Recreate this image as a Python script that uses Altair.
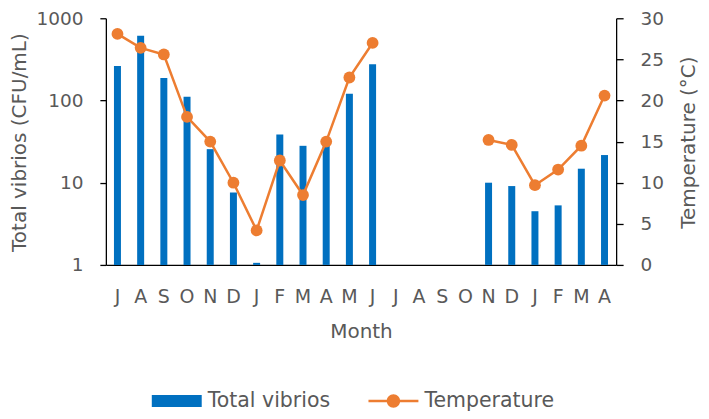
import altair as alt
import pandas as pd

months = ["J", "A", "S", "O", "N", "D", "J", "F", "M", "A", "M", "J",
          "J", "A", "S", "O", "N", "D", "J", "F", "M", "A"]
vibrios = [263, 611, 188, 111, 25.6, 7.6, 1.06, 38.6, 28.1, 29, 121, 275,
           None, None, None, None, 10, 9.1, 4.5, 5.3, 14.8, 21.7]
temps = [28.1, 26.4, 25.6, 18.0, 15.0, 10.0, 4.2, 12.7, 8.5, 15.0, 22.8, 27.0,
         None, None, None, None, 15.2, 14.6, 9.7, 11.6, 14.5, 20.6]
series = ["Total vibrios", "Temperature"]

BLUE = "#0070C0"
ORANGE = "#ED7D31"
GREY = "#595959"
FONT = "DejaVu Sans"

idx = list(range(len(months)))
df = pd.DataFrame({"idx": idx, "month": months, "vibrios": vibrios, "temp": temps})
# segment id so the temperature line breaks over the missing months
seg = []
s = 0
prev_missing = False
for t in temps:
    if t is None:
        prev_missing = True
    else:
        if prev_missing:
            s += 1
        prev_missing = False
    seg.append(s)
df["seg"] = seg

bars_df = df.dropna(subset=["vibrios"])
temp_df = df.dropna(subset=["temp"])

label_expr = "[" + ",".join("'%s'" % m for m in months) + "][datum.value]"

x_scale = alt.Scale(domain=idx, paddingInner=0, paddingOuter=0)
x_enc = alt.X(
    "idx:O",
    scale=x_scale,
    axis=alt.Axis(
        title="Month", labelExpr=label_expr, labelAngle=0, ticks=False,
        domainColor="black", domainWidth=1.3, labelPadding=23,
        labelFont=FONT, labelFontSize=19, labelColor=GREY,
        titleFont=FONT, titleFontSize=20, titleColor=GREY, titleFontWeight="normal",
        titleY=73, titleBaseline="alphabetic",
    ),
)

bars = alt.Chart(bars_df).mark_bar(size=7, color=BLUE).encode(
    x=x_enc,
    y=alt.Y(
        "vibrios:Q",
        scale=alt.Scale(type="log", domain=[1, 1000]),
        axis=alt.Axis(
            title="Total vibrios (CFU/mL)", values=[1, 10, 100, 1000], format="d",
            grid=False, domainColor="black", domainWidth=1.3, tickColor="black",
            tickSize=6, tickWidth=1.3, labelPadding=17,
            labelFont=FONT, labelFontSize=18.5, labelColor=GREY,
            titleFont=FONT, titleFontSize=20, titleColor=GREY, titleFontWeight="normal",
            titleX=-86, titleY=124, titleAngle=270, titleAlign="center",
            titleBaseline="middle",
        ),
    ),
    y2=alt.datum(1),
)

temp_axis = alt.Axis(
    title="Temperature (°C)", orient="right", values=[0, 5, 10, 15, 20, 25, 30],
    grid=False, domainColor="black", domainWidth=1.3, tickColor="black",
    tickSize=7, tickWidth=1.3, labelPadding=17,
    labelFont=FONT, labelFontSize=18.5, labelColor=GREY,
    titleFont=FONT, titleFontSize=20, titleColor=GREY, titleFontWeight="normal",
    titleX=72, titleY=124, titleAngle=270, titleAlign="center",
    titleBaseline="middle",
)

line = alt.Chart(temp_df).mark_line(color=ORANGE, strokeWidth=2.5).encode(
    x=alt.X("idx:O", scale=x_scale),
    y=alt.Y("temp:Q", scale=alt.Scale(domain=[0, 30]), axis=temp_axis),
    detail="seg:N",
)
pts = alt.Chart(temp_df).mark_circle(color=ORANGE, size=140, opacity=1).encode(
    x=alt.X("idx:O", scale=x_scale),
    y=alt.Y("temp:Q"),
)
temp_layer = alt.layer(line, pts)

bar_sym = "M-1,-0.24L1,-0.24L1,0.24L-1,0.24Z"
line_sym = ("M-1,-0.05L1,-0.05L1,0.05L-1,0.05Z"
            "M0.27,0A0.27,0.27 0 1,1 -0.27,0A0.27,0.27 0 1,1 0.27,0Z")

leg = alt.Legend(
    title=None, orient="none", direction="horizontal", legendX=46, legendY=358,
    symbolSize=2500, labelFont=FONT, labelFontSize=20.5, labelColor=GREY,
    labelOffset=6, columnPadding=38, symbolStrokeWidth=0, symbolOpacity=1,
)
legend_layer = alt.Chart(pd.DataFrame({"series": series})).mark_point(
    filled=True, opacity=0
).encode(
    color=alt.Color("series:N", scale=alt.Scale(domain=series, range=[BLUE, ORANGE]),
                    legend=leg),
    shape=alt.Shape("series:N", scale=alt.Scale(domain=series, range=[bar_sym, line_sym]),
                    legend=leg),
)

chart = alt.layer(bars, temp_layer, legend_layer).resolve_scale(
    y="independent"
).properties(
    width=511, height=247,
    autosize=alt.AutoSizeParams(type="none"),
    padding={"left": 98, "top": 10, "right": 85, "bottom": 146},
).configure_view(stroke=None)

chart.save("out.html", embed_options={"renderer": "svg", "actions": False})
